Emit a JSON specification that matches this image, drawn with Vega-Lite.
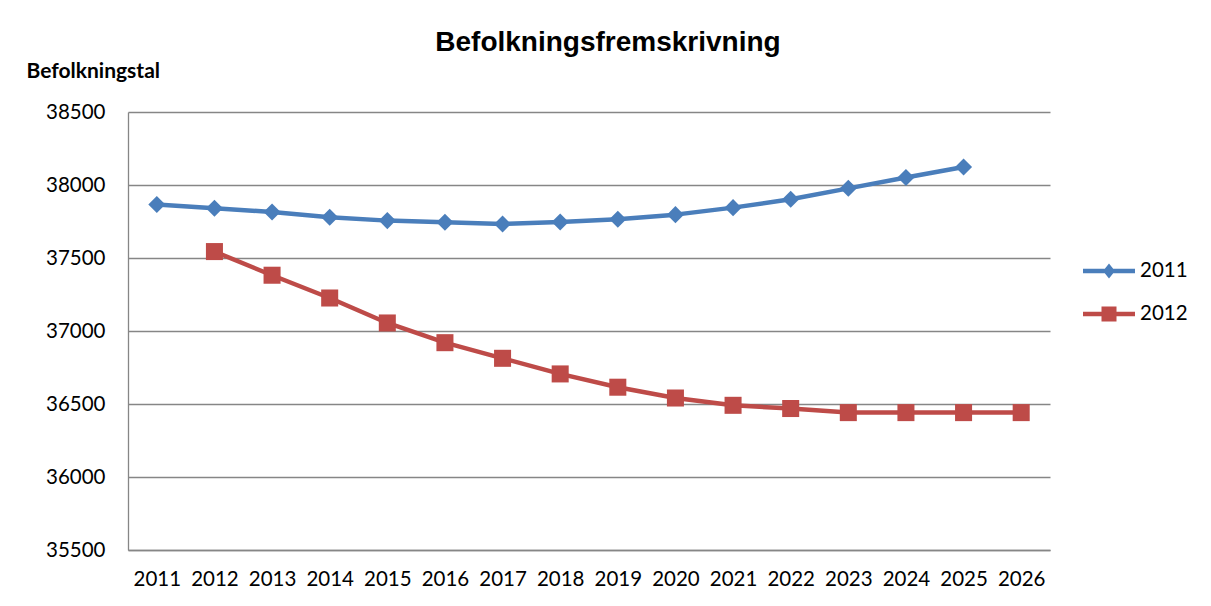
{
  "$schema": "https://vega.github.io/schema/vega-lite/v6.json",
  "width": 922,
  "height": 438,
  "autosize": {"type": "none"},
  "padding": {"left": 128, "top": 112, "right": 161, "bottom": 56},
  "background": "white",
  "config": {
    "view": {"stroke": null},
    "font": "Lato"
  },
  "title": {
    "text": "Befolkningsfremskrivning",
    "font": "Liberation Sans",
    "fontSize": 28,
    "fontWeight": "bold",
    "color": "#000000",
    "anchor": "middle",
    "frame": "group",
    "dx": 19,
    "offset": 3
  },
  "data": {
    "values": [
      {"year": 2011, "series": "2011", "value": 37866},
      {"year": 2012, "series": "2011", "value": 37841},
      {"year": 2013, "series": "2011", "value": 37815},
      {"year": 2014, "series": "2011", "value": 37779},
      {"year": 2015, "series": "2011", "value": 37756},
      {"year": 2016, "series": "2011", "value": 37745},
      {"year": 2017, "series": "2011", "value": 37733},
      {"year": 2018, "series": "2011", "value": 37746},
      {"year": 2019, "series": "2011", "value": 37765},
      {"year": 2020, "series": "2011", "value": 37797},
      {"year": 2021, "series": "2011", "value": 37845},
      {"year": 2022, "series": "2011", "value": 37902},
      {"year": 2023, "series": "2011", "value": 37977},
      {"year": 2024, "series": "2011", "value": 38051},
      {"year": 2025, "series": "2011", "value": 38123},
      {"year": 2012, "series": "2012", "value": 37544},
      {"year": 2013, "series": "2012", "value": 37382},
      {"year": 2014, "series": "2012", "value": 37226},
      {"year": 2015, "series": "2012", "value": 37055},
      {"year": 2016, "series": "2012", "value": 36920},
      {"year": 2017, "series": "2012", "value": 36813},
      {"year": 2018, "series": "2012", "value": 36706},
      {"year": 2019, "series": "2012", "value": 36615},
      {"year": 2020, "series": "2012", "value": 36541},
      {"year": 2021, "series": "2012", "value": 36491},
      {"year": 2022, "series": "2012", "value": 36469},
      {"year": 2023, "series": "2012", "value": 36441},
      {"year": 2024, "series": "2012", "value": 36441},
      {"year": 2025, "series": "2012", "value": 36441},
      {"year": 2026, "series": "2012", "value": 36441}
    ]
  },
  "encoding": {
    "x": {
      "field": "year",
      "type": "ordinal",
      "scale": {"type": "point", "padding": 0.5, "domain": [2011,2012,2013,2014,2015,2016,2017,2018,2019,2020,2021,2022,2023,2024,2025,2026]},
      "axis": {
        "title": null,
        "labelAngle": 0,
        "labelFont": "Lato",
        "labelFontSize": 20.5,
        "labelColor": "#000000",
        "labelPadding": 19,
        "ticks": false,
        "tickSize": 0,
        "domain": true,
        "domainColor": "#868686",
        "domainWidth": 1.3,
        "grid": false
      }
    },
    "y": {
      "field": "value",
      "type": "quantitative",
      "scale": {"domain": [35500, 38500], "nice": false, "zero": false},
      "axis": {
        "values": [35500, 36000, 36500, 37000, 37500, 38000, 38500],
        "format": "d",
        "title": "Befolkningstal",
        "titleAngle": 0,
        "titleAlign": "left",
        "titleBaseline": "alphabetic",
        "titleX": -102,
        "titleY": -35,
        "titleFont": "Lato",
        "titleFontSize": 21,
        "titleFontWeight": "bold",
        "titleColor": "#000000",
        "labelFont": "Lato",
        "labelFontSize": 20.5,
        "labelColor": "#000000",
        "labelPadding": 23,
        "ticks": false,
        "tickSize": 0,
        "domain": true,
        "domainColor": "#868686",
        "domainWidth": 1.3,
        "grid": true,
        "gridColor": "#868686",
        "gridWidth": 1.3
      }
    },
    "color": {
      "field": "series",
      "type": "nominal",
      "scale": {"domain": ["2011", "2012"], "range": ["#4A7EBB", "#BE4B48"]},
      "legend": {
        "title": null,
        "orient": "none",
        "legendX": 961,
        "legendY": 139,
        "symbolSize": 1600,
        "rowPadding": 12,
        "labelFont": "Lato",
        "labelFontSize": 20.5,
        "labelColor": "#000000",
        "labelOffset": 11,
        "encode": {
          "symbols": {
            "update": {
              "shape": [
                {"test": "datum.value === '2011'", "value": "M-1.3,-0.11L1.3,-0.11L1.3,0.11L-1.3,0.11Z M0,-0.375L0.3,0L0,0.375L-0.3,0Z"},
                {"value": "M-1.3,-0.11L1.3,-0.11L1.3,0.11L-1.3,0.11Z M-0.375,-0.375L0.375,-0.375L0.375,0.375L-0.375,0.375Z"}
              ],
              "fill": {"scale": "color", "field": "value"},
              "stroke": {"value": "transparent"},
              "strokeWidth": {"value": 0},
              "opacity": {"value": 1},
              "fillOpacity": {"value": 1}
            }
          }
        }
      }
    }
  },
  "layer": [
    {
      "mark": {"type": "line", "strokeWidth": 4.5, "strokeCap": "round", "strokeJoin": "round"}
    },
    {
      "transform": [{"filter": "datum.series === '2011'"}],
      "mark": {"type": "point", "filled": true, "opacity": 1, "size": 290, "shape": "diamond"}
    },
    {
      "transform": [{"filter": "datum.series === '2012'"}],
      "mark": {"type": "point", "filled": true, "opacity": 1, "size": 290, "shape": "square"}
    }
  ]
}
